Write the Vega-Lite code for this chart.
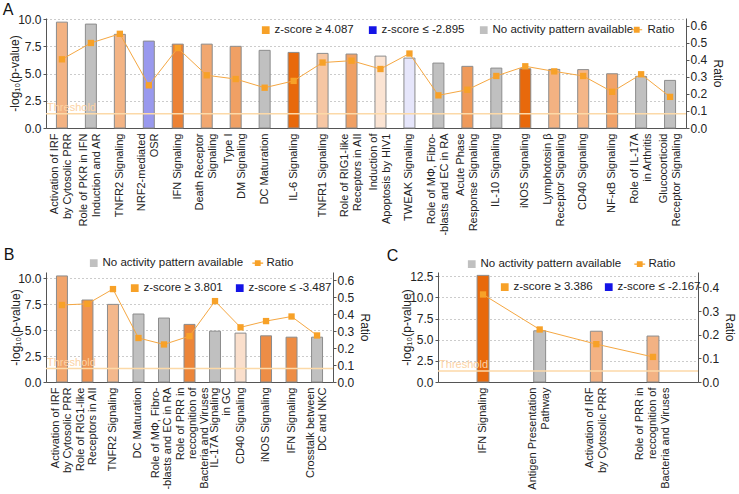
{
  "$schema": "https://vega.github.io/schema/vega-lite/v6.json",
  "padding": {"left": 2, "top": 2, "right": 2, "bottom": 2},
  "background": "white",
  "config": {
    "font": "Liberation Sans",
    "view": {"stroke": null},
    "axis": {"labelFontSize": 11, "labelColor": "#222", "titleColor": "#222", "titleFontSize": 12, "titleFontWeight": "normal", "domainColor": "#555", "tickColor": "#555", "grid": false, "labelFont": "Liberation Sans", "titleFont": "Liberation Sans"},
    "axisY": {"labelFontSize": 12, "labelOverlap": false},
    "legend": {"labelFontSize": 11.5, "labelColor": "#222", "labelFont": "Liberation Sans", "padding": 0},
    "title": {"fontSize": 16, "fontWeight": "normal", "anchor": "start", "frame": "bounds", "color": "#111", "font": "Liberation Sans"}
  },
  "datasets": {
    "A": [
      {"pathway": "Activation of IRF\nby Cytosolic PRR", "logp": 9.72, "ratio": 0.404, "z": 2.1},
      {"pathway": "Role of PKR in IFN\nInduction and AR\u00a0", "logp": 9.54, "ratio": 0.5, "z": null},
      {"pathway": "TNFR2 Signaling", "logp": 8.6, "ratio": 0.554, "z": 2.05},
      {"pathway": "NRF2-mediated\nOSR\u00a0\u00a0\u00a0\u00a0\u00a0\u00a0\u00a0\u00a0\u00a0", "logp": 7.98, "ratio": 0.251, "z": -2.895},
      {"pathway": "IFN Signaling", "logp": 7.7, "ratio": 0.47, "z": 3.4},
      {"pathway": "Death Receptor\nSignaling\u00a0\u00a0\u00a0\u00a0\u00a0", "logp": 7.7, "ratio": 0.31, "z": 2.4},
      {"pathway": "Type I\u00a0\u00a0\u00a0\u00a0\u00a0\u00a0\nDM Signaling", "logp": 7.5, "ratio": 0.288, "z": 2.6},
      {"pathway": "DC Maturation", "logp": 7.13, "ratio": 0.237, "z": null},
      {"pathway": "IL-6 Signaling", "logp": 6.94, "ratio": 0.277, "z": 4.087},
      {"pathway": "TNFR1 Signaling", "logp": 6.85, "ratio": 0.385, "z": 1.55},
      {"pathway": "Role of RIG1-like\nReceptors in AII\u00a0", "logp": 6.79, "ratio": 0.396, "z": 2.6},
      {"pathway": "Induction of\u00a0\u00a0\u00a0\u00a0\u00a0\nApoptosis by HIV1", "logp": 6.6, "ratio": 0.347, "z": 0.74},
      {"pathway": "TWEAK Signaling", "logp": 6.42, "ratio": 0.438, "z": -0.71},
      {"pathway": "Role of MΦ, Fibro-\u00a0\u00a0\n-blasts and EC in RA", "logp": 5.96, "ratio": 0.192, "z": null},
      {"pathway": "Acute Phase\u00a0\u00a0\u00a0\u00a0\u00a0\u00a0\nResponse Signaling", "logp": 5.66, "ratio": 0.225, "z": 2.76},
      {"pathway": "IL-10 Signaling", "logp": 5.5, "ratio": 0.306, "z": null},
      {"pathway": "iNOS Signaling", "logp": 5.44, "ratio": 0.363, "z": 4.087},
      {"pathway": "Lymphotosin β\u00a0\u00a0\u00a0\nReceptor Signaling", "logp": 5.38, "ratio": 0.333, "z": 2.1},
      {"pathway": "CD40 Signaling", "logp": 5.36, "ratio": 0.306, "z": 2.0},
      {"pathway": "NF-κB Signaling", "logp": 4.98, "ratio": 0.213, "z": 2.5},
      {"pathway": "Role of IL-17A\nin Arthritis\u00a0\u00a0\u00a0", "logp": 4.74, "ratio": 0.316, "z": null},
      {"pathway": "Glucocorticoid\u00a0\u00a0\u00a0\u00a0\nReceptor Signaling", "logp": 4.37, "ratio": 0.183, "z": null}
    ],
    "B": [
      {"pathway": "Activation of IRF\nby Cytosolic PRR", "logp": 10.22, "ratio": 0.455, "z": 2.3},
      {"pathway": "Role of RIG1-like\nReceptors in AII\u00a0", "logp": 7.9, "ratio": 0.462, "z": 2.7},
      {"pathway": "TNFR2 Signaling", "logp": 7.48, "ratio": 0.549, "z": 1.8},
      {"pathway": "DC Maturation", "logp": 6.55, "ratio": 0.26, "z": null},
      {"pathway": "Role of MΦ, Fibro-\u00a0\u00a0\n-blasts and EC in RA", "logp": 6.16, "ratio": 0.222, "z": null},
      {"pathway": "Role of PRR in\u00a0\u00a0\u00a0\u00a0\u00a0\nreccognition of\u00a0\u00a0\u00a0\u00a0\u00a0\nBacteria and Viruses", "logp": 5.55, "ratio": 0.271, "z": 3.1},
      {"pathway": "IL-17A Signaling\nin GC\u00a0\u00a0\u00a0\u00a0\u00a0\u00a0\u00a0\u00a0\u00a0", "logp": 4.9, "ratio": 0.478, "z": null},
      {"pathway": "CD40 Signaling", "logp": 4.71, "ratio": 0.323, "z": 0.8},
      {"pathway": "iNOS Signaling", "logp": 4.45, "ratio": 0.36, "z": 2.9},
      {"pathway": "IFN Signaling", "logp": 4.32, "ratio": 0.387, "z": 2.9},
      {"pathway": "Crosstalk between\nDC and NKC\u00a0\u00a0\u00a0\u00a0", "logp": 4.32, "ratio": 0.275, "z": null}
    ],
    "C": [
      {"pathway": "IFN Signaling", "logp": 12.6, "ratio": 0.37, "z": 3.386},
      {"pathway": "Antigen Presentation\nPathway\u00a0\u00a0\u00a0\u00a0\u00a0\u00a0\u00a0\u00a0\u00a0\u00a0", "logp": 6.05, "ratio": 0.222, "z": null},
      {"pathway": "Activation of IRF\nby Cytosolic PRR", "logp": 6.0, "ratio": 0.16, "z": 1.73},
      {"pathway": "Role of PRR in\u00a0\u00a0\u00a0\u00a0\u00a0\nreccognition of\u00a0\u00a0\u00a0\u00a0\u00a0\nBacteria and Viruses", "logp": 5.43, "ratio": 0.106, "z": 1.73}
    ],
    "thrA": [{"pathway": "Activation of IRF\nby Cytosolic PRR", "logp": 1.3, "label": "Threshold"}],
    "thrB": [{"pathway": "Activation of IRF\nby Cytosolic PRR", "logp": 1.3, "label": "Threshold"}],
    "thrC": [{"pathway": "IFN Signaling", "logp": 1.3, "label": "Threshold"}],
    "legA1": [{"item": "z-score ≥ 4.087"}, {"item": "z-score ≤ -2.895"}, {"item": "No activity pattern available"}],
    "legA2": [{"item": "Ratio"}],
    "legB1": [{"item": "No activity pattern available"}, {"item": "Ratio"}],
    "legB2": [{"item": "z-score ≥ 3.801"}, {"item": "z-score ≤ -3.487"}],
    "legC2": [{"item": "z-score ≥ 3.386"}, {"item": "z-score ≤ -2.167"}]
  },
  "spacing": 11,
  "resolve": {"scale": {"color": "independent"}, "legend": {"color": "independent"}},
  "vconcat": [
    {
      "title": {"text": "A", "dx": -6, "offset": -5},
      "width": 640,
      "height": 110,
      "layer": [
        {
          "layer": [
            {
              "data": {"name": "A"},
              "mark": {"type": "bar", "stroke": "#8c8c8c", "strokeWidth": 1, "invalid": "show"},
              "encoding": {
                "x": {"field": "pathway", "type": "nominal", "sort": null, "scale": {"paddingInner": 0.62, "paddingOuter": 0.36},
                  "axis": {"title": null, "labelAngle": -90, "labelExpr": "split(datum.label, '\\n')", "ticks": false, "labelPadding": 5, "labelLineHeight": 13, "labelLimit": 300,
                    "labelOffset": {"expr": "-(length(split(datum.value, '\\n')) - 1) * 6.5"}}},
                "y": {"field": "logp", "type": "quantitative", "scale": {"domain": [0, 10.1], "nice": false},
                  "axis": {"title": "-log₁₀(p-value)", "values": [0, 2.5, 5, 7.5, 10], "tickCount": 20, "format": ".1f", "grid": true, "gridDash": [1, 3], "gridColor": "#999", "tickSize": 3, "labelPadding": 2, "titlePadding": -4, "labelOverlap": false}},
                "color": {"condition": {"test": "datum.z === null", "value": "#c0c0c0"}, "field": "z", "type": "quantitative",
                  "scale": {"domain": [-2.895, 0, 4.087], "range": ["#9999ee", "#ffffff", "#e8690c"], "interpolate": "rgb"}, "legend": null}
              }
            },
            {
              "data": {"name": "thrA"},
              "mark": {"type": "rule", "color": "#fcd9a8", "strokeWidth": 1.5},
              "encoding": {"y": {"field": "logp", "type": "quantitative"}}
            },
            {
              "data": {"name": "thrA"},
              "mark": {"type": "text", "color": "#fcd2a4", "align": "left", "baseline": "bottom", "fontSize": 11, "dy": -1, "dx": -9.4},
              "encoding": {
                "x": {"field": "pathway", "type": "nominal", "sort": null, "bandPosition": 0},
                "y": {"field": "logp", "type": "quantitative"},
                "text": {"field": "label"}
              }
            }
          ]
        },
        {
          "data": {"name": "A"},
          "layer": [
            {
              "mark": {"type": "line", "color": "#f5a742", "strokeWidth": 1},
              "encoding": {
                "x": {"field": "pathway", "type": "nominal", "sort": null},
                "y": {"field": "ratio", "type": "quantitative", "scale": {"domain": [0, 0.647], "nice": false},
                  "axis": {"orient": "right", "title": "Ratio", "values": [0, 0.1, 0.2, 0.3, 0.4, 0.5, 0.6], "tickCount": 20, "format": ".1f", "tickSize": 3, "labelPadding": 1, "titlePadding": 4, "labelOverlap": false}}
              }
            },
            {
              "mark": {"type": "square", "size": 40, "color": "#f7a128", "opacity": 1},
              "encoding": {
                "x": {"field": "pathway", "type": "nominal", "sort": null},
                "y": {"field": "ratio", "type": "quantitative"}
              }
            }
          ]
        },
        {
          "data": {"name": "legA1"},
          "mark": {"type": "point", "filled": true, "opacity": 0},
          "encoding": {
            "color": {"field": "item", "type": "nominal", "sort": null,
              "scale": {"domain": ["z-score ≥ 4.087", "z-score ≤ -2.895", "No activity pattern available"], "range": ["#f7a128", "#1414e6", "#c0c0c0"]},
              "legend": {"orient": "none", "legendX": 214, "legendY": 6, "direction": "horizontal", "title": null, "symbolType": "square", "symbolSize": 60, "labelOffset": 3, "columnPadding": 13, "encode": {"symbols": {"update": {"opacity": {"value": 1}}}}}}
          }
        },
        {
          "data": {"name": "legA2"},
          "mark": {"type": "point", "filled": true, "opacity": 0},
          "encoding": {
            "color": {"field": "item", "type": "nominal",
              "scale": {"domain": ["Ratio"], "range": ["#f7a128"]},
              "legend": {"orient": "none", "legendX": 585, "legendY": 6, "direction": "horizontal", "title": null, "symbolType": "M-1.4,-0.14H1.4V0.14H-1.4ZM-0.75,-0.75H0.75V0.75H-0.75Z", "symbolSize": 60, "labelOffset": 5, "encode": {"symbols": {"update": {"opacity": {"value": 1}}}}}}
          }
        }
      ],
      "resolve": {"scale": {"y": "independent", "color": "independent"}, "legend": {"color": "independent"}}
    },
    {
      "spacing": 15,
      "resolve": {"scale": {"color": "independent"}, "legend": {"color": "independent"}},
      "hconcat": [
        {
          "title": {"text": "B", "dx": -6, "offset": -6},
          "width": 287,
          "height": 110,
          "layer": [
            {
              "layer": [
                {
                  "data": {"name": "B"},
                  "mark": {"type": "bar", "stroke": "#8c8c8c", "strokeWidth": 1, "invalid": "show"},
                  "encoding": {
                    "x": {"field": "pathway", "type": "nominal", "sort": null, "scale": {"paddingInner": 0.57, "paddingOuter": 0.41},
                      "axis": {"title": null, "labelAngle": -90, "labelExpr": "split(datum.label, '\\n')", "ticks": false, "labelPadding": 5, "labelLineHeight": 12, "labelLimit": 300,
                        "labelOffset": {"expr": "-(length(split(datum.value, '\\n')) - 1) * 6 + (indexof(datum.value, 'Fibro') >= 0 ? -2 : indexof(datum.value, 'Bacteria') >= 0 ? 3 : indexof(datum.value, 'in GC') >= 0 ? 6 : 0)"}}},
                    "y": {"field": "logp", "type": "quantitative", "scale": {"domain": [0, 10.6], "nice": false},
                      "axis": {"title": "-log₁₀(p-value)", "values": [0, 2.5, 5, 7.5, 10], "tickCount": 20, "format": ".1f", "grid": true, "gridDash": [1, 3], "gridColor": "#999", "tickSize": 3, "labelPadding": 2, "titlePadding": -5, "labelOverlap": false}},
                    "color": {"condition": {"test": "datum.z === null", "value": "#c0c0c0"}, "field": "z", "type": "quantitative",
                      "scale": {"domain": [-3.487, 0, 3.801], "range": ["#9999ee", "#ffffff", "#e8690c"], "interpolate": "rgb"}, "legend": null}
                  }
                },
                {
                  "data": {"name": "thrB"},
                  "mark": {"type": "rule", "color": "#fcd9a8", "strokeWidth": 1.5},
                  "encoding": {"y": {"field": "logp", "type": "quantitative"}}
                },
                {
                  "data": {"name": "thrB"},
                  "mark": {"type": "text", "color": "#fcd2a4", "align": "left", "baseline": "bottom", "fontSize": 11, "dy": -1, "dx": -9.5},
                  "encoding": {
                    "x": {"field": "pathway", "type": "nominal", "sort": null, "bandPosition": 0},
                    "y": {"field": "logp", "type": "quantitative"},
                    "text": {"field": "label"}
                  }
                }
              ]
            },
            {
              "data": {"name": "B"},
              "layer": [
                {
                  "mark": {"type": "line", "color": "#f5a742", "strokeWidth": 1},
                  "encoding": {
                    "x": {"field": "pathway", "type": "nominal", "sort": null},
                    "y": {"field": "ratio", "type": "quantitative", "scale": {"domain": [0, 0.65], "nice": false},
                      "axis": {"orient": "right", "title": "Ratio", "values": [0, 0.1, 0.2, 0.3, 0.4, 0.5, 0.6], "tickCount": 20, "format": ".1f", "tickSize": 3, "labelPadding": 1, "titlePadding": 4, "labelOverlap": false}}
                  }
                },
                {
                  "mark": {"type": "square", "size": 40, "color": "#f7a128", "opacity": 1},
                  "encoding": {
                    "x": {"field": "pathway", "type": "nominal", "sort": null},
                    "y": {"field": "ratio", "type": "quantitative"}
                  }
                }
              ]
            },
            {
              "data": {"name": "legB1"},
              "mark": {"type": "point", "filled": true, "opacity": 0},
              "encoding": {
                "color": {"field": "item", "type": "nominal", "sort": null,
                  "scale": {"domain": ["No activity pattern available", "Ratio"], "range": ["#c0c0c0", "#f7a128"]},
                  "legend": {"orient": "none", "legendX": 42, "legendY": -15, "direction": "horizontal", "title": null, "symbolType": "square", "symbolSize": 60, "labelOffset": 3, "columnPadding": 8,
                    "encode": {"symbols": {"update": {"opacity": {"value": 1}, "shape": {"signal": "datum.value === 'Ratio' ? 'M-1.4,-0.14H1.4V0.14H-1.4ZM-0.75,-0.75H0.75V0.75H-0.75Z' : 'square'"}}}}}}
              }
            },
            {
              "data": {"name": "legB2"},
              "mark": {"type": "point", "filled": true, "opacity": 0},
              "encoding": {
                "color": {"field": "item", "type": "nominal", "sort": null,
                  "scale": {"domain": ["z-score ≥ 3.801", "z-score ≤ -3.487"], "range": ["#f7a128", "#1414e6"]},
                  "legend": {"orient": "none", "legendX": 83, "legendY": 10, "direction": "horizontal", "title": null, "symbolType": "square", "symbolSize": 60, "labelOffset": 3, "columnPadding": 11, "encode": {"symbols": {"update": {"opacity": {"value": 1}}}}}}
              }
            }
          ],
          "resolve": {"scale": {"y": "independent", "color": "independent"}, "legend": {"color": "independent"}}
        },
        {
          "title": {"text": "C", "dx": -14, "offset": -6},
          "width": 260,
          "height": 110,
          "layer": [
            {
              "layer": [
                {
                  "data": {"name": "C"},
                  "mark": {"type": "bar", "stroke": "#8c8c8c", "strokeWidth": 1, "invalid": "show"},
                  "encoding": {
                    "x": {"field": "pathway", "type": "nominal", "sort": null, "scale": {"paddingInner": 0.79, "paddingOuter": 0.69},
                      "axis": {"title": null, "labelAngle": -90, "labelExpr": "split(datum.label, '\\n')", "ticks": false, "labelPadding": 5, "labelLineHeight": 13, "labelLimit": 300,
                        "labelOffset": {"expr": "-(length(split(datum.value, '\\n')) - 1) * 6.5"}}},
                    "y": {"field": "logp", "type": "quantitative", "scale": {"domain": [0, 13], "nice": false},
                      "axis": {"title": "-log₁₀(p-value)", "values": [0, 2.5, 5, 7.5, 10, 12.5], "tickCount": 20, "format": ".1f", "grid": true, "gridDash": [1, 3], "gridColor": "#999", "tickSize": 3, "labelPadding": 2, "titlePadding": -4, "labelOverlap": false}},
                    "color": {"condition": {"test": "datum.z === null", "value": "#c0c0c0"}, "field": "z", "type": "quantitative",
                      "scale": {"domain": [-2.167, 0, 3.386], "range": ["#9999ee", "#ffffff", "#e8690c"], "interpolate": "rgb"}, "legend": null}
                  }
                },
                {
                  "data": {"name": "thrC"},
                  "mark": {"type": "rule", "color": "#fcd9a8", "strokeWidth": 1.5},
                  "encoding": {"y": {"field": "logp", "type": "quantitative"}}
                },
                {
                  "data": {"name": "thrC"},
                  "mark": {"type": "text", "color": "#fcd2a4", "align": "left", "baseline": "bottom", "fontSize": 11, "dy": -1, "dx": -38},
                  "encoding": {
                    "x": {"field": "pathway", "type": "nominal", "sort": null, "bandPosition": 0},
                    "y": {"field": "logp", "type": "quantitative"},
                    "text": {"field": "label"}
                  }
                }
              ]
            },
            {
              "data": {"name": "C"},
              "layer": [
                {
                  "mark": {"type": "line", "color": "#f5a742", "strokeWidth": 1},
                  "encoding": {
                    "x": {"field": "pathway", "type": "nominal", "sort": null},
                    "y": {"field": "ratio", "type": "quantitative", "scale": {"domain": [0, 0.465], "nice": false},
                      "axis": {"orient": "right", "title": "Ratio", "values": [0, 0.1, 0.2, 0.3, 0.4], "tickCount": 20, "format": ".1f", "tickSize": 3, "labelPadding": 1, "titlePadding": 4, "labelOverlap": false}}
                  }
                },
                {
                  "mark": {"type": "square", "size": 40, "color": "#f7a128", "opacity": 1},
                  "encoding": {
                    "x": {"field": "pathway", "type": "nominal", "sort": null},
                    "y": {"field": "ratio", "type": "quantitative"}
                  }
                }
              ]
            },
            {
              "data": {"name": "legB1"},
              "mark": {"type": "point", "filled": true, "opacity": 0},
              "encoding": {
                "color": {"field": "item", "type": "nominal", "sort": null,
                  "scale": {"domain": ["No activity pattern available", "Ratio"], "range": ["#c0c0c0", "#f7a128"]},
                  "legend": {"orient": "none", "legendX": 28, "legendY": -14, "direction": "horizontal", "title": null, "symbolType": "square", "symbolSize": 60, "labelOffset": 3, "columnPadding": 12,
                    "encode": {"symbols": {"update": {"opacity": {"value": 1}, "shape": {"signal": "datum.value === 'Ratio' ? 'M-1.4,-0.14H1.4V0.14H-1.4ZM-0.75,-0.75H0.75V0.75H-0.75Z' : 'square'"}}}}}}
              }
            },
            {
              "data": {"name": "legC2"},
              "mark": {"type": "point", "filled": true, "opacity": 0},
              "encoding": {
                "color": {"field": "item", "type": "nominal", "sort": null,
                  "scale": {"domain": ["z-score ≥ 3.386", "z-score ≤ -2.167"], "range": ["#f7a128", "#1414e6"]},
                  "legend": {"orient": "none", "legendX": 61, "legendY": 9, "direction": "horizontal", "title": null, "symbolType": "square", "symbolSize": 60, "labelOffset": 3, "columnPadding": 10, "encode": {"symbols": {"update": {"opacity": {"value": 1}}}}}}
              }
            }
          ],
          "resolve": {"scale": {"y": "independent", "color": "independent"}, "legend": {"color": "independent"}}
        }
      ]
    }
  ]
}
